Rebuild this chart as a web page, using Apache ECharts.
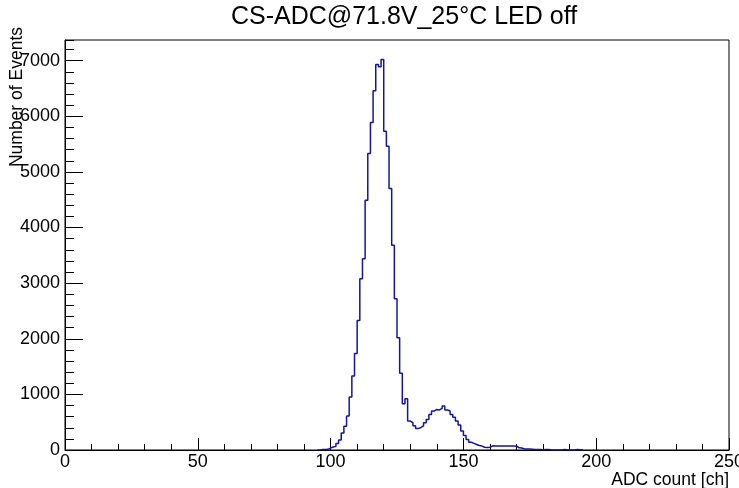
<!DOCTYPE html>
<html>
<head>
<meta charset="utf-8">
<script src="https://cdn.jsdelivr.net/npm/echarts@6/dist/echarts.min.js"></script>
<style>
html,body{margin:0;padding:0;background:#fff;}
#chart{width:739px;height:488px;}
</style>
</head>
<body>
<div id="chart"></div>
<script>
// Histogram: 1 ADC-count-wide bins, first bin starts at binStart
const titleText = "CS-ADC@71.8V_25\u00b0C LED off";
const xAxisTitle = "ADC count [ch]";
const yAxisTitle = "Number of Events";
const binStart = 95;
const counts = [
  0, 8, 10, 12, 35, 55, 65, 115, 180, 305,            // 95-104
  425, 610, 955, 1330, 1735, 2330, 3080, 3440, 4490, 5330, // 105-114
  5890, 6460, 6930, 6890, 7020, 5730, 5460, 4700, 3680, 2720, // 115-124
  2020, 1380, 830, 920, 520, 490, 435, 385, 405, 435,  // 125-134
  490, 550, 640, 700, 730, 720, 750, 790, 720, 700,    // 135-144
  640, 590, 520, 450, 340, 260, 190, 140, 120, 100,    // 145-154
  80, 70, 50, 45, 50, 75, 72, 70, 70, 72,              // 155-164
  70, 70, 72, 70, 68, 40, 35, 20, 20, 18,              // 165-174
  15, 8, 8, 8, 6, 8, 8, 4, 2, 0,                       // 175-184
  2, 2, 8, 6, 0, 2, 0, 8, 6, 0                         // 185-194
];
const xTicks = [0, 50, 100, 150, 200, 250];
const yTicks = [0, 1000, 2000, 3000, 4000, 5000, 6000, 7000];
const yMax = 7371;

const data = counts.map((v, i) => [binStart + i, v]);
data.push([binStart + counts.length, 0]);

const chart = echarts.init(document.getElementById('chart'), null, {renderer: 'canvas'});
const font = "'Liberation Sans', Arial, Helvetica, sans-serif";
const plain = v => String(v);
chart.setOption({
  animation: false,
  backgroundColor: '#fff',
  title: {
    text: titleText,
    left: 399,
    textAlign: 'center',
    top: 0,
    padding: [5, 5],
    textStyle: {fontFamily: font, fontSize: 25, fontWeight: 'normal', color: '#000'}
  },
  grid: {
    left: 65, right: 10, top: 40, bottom: 38,
    containLabel: false,
    outerBoundsMode: 'none',
    show: true, borderColor: '#000', borderWidth: 1, backgroundColor: 'transparent'
  },
  xAxis: {
    type: 'value',
    min: xTicks[0], max: xTicks[xTicks.length - 1], interval: xTicks[1] - xTicks[0],
    name: xAxisTitle,
    nameLocation: 'end',
    nameGap: 0,
    nameTextStyle: {fontFamily: font, fontSize: 17.5, color: '#000', align: 'right', verticalAlign: 'top', padding: [21, 0, 0, 0]},
    axisLine: {show: true, lineStyle: {color: '#000', width: 1}},
    axisTick: {show: true, inside: true, length: 12, lineStyle: {color: '#000'}},
    minorTick: {show: true, splitNumber: 5, length: 6, lineStyle: {color: '#000'}},
    axisLabel: {fontFamily: font, fontSize: 18, color: '#000', margin: 3, formatter: plain},
    splitLine: {show: false}
  },
  yAxis: [{
    type: 'value',
    min: 0, max: yMax, interval: yTicks[1] - yTicks[0],
    position: 'left',
    axisLine: {show: true, lineStyle: {color: '#000', width: 1}},
    axisTick: {show: true, inside: true, length: 18, lineStyle: {color: '#000'}},
    axisLabel: {fontFamily: font, fontSize: 18, color: '#000', margin: 5, showMaxLabel: false, formatter: plain},
    splitLine: {show: false}
  }, {
    type: 'value',
    min: 0, max: yMax, interval: (yTicks[1] - yTicks[0]) / 5,
    position: 'left',
    offset: 0,
    axisLine: {show: false},
    axisTick: {show: true, inside: true, length: 9, lineStyle: {color: '#000'}},
    axisLabel: {show: false},
    splitLine: {show: false}
  }],
  graphic: [{
    type: 'text',
    x: 26, y: 27,
    rotation: Math.PI / 2,
    style: {text: yAxisTitle, font: "17.5px 'Liberation Sans', Arial, sans-serif", fill: '#000', align: 'right', verticalAlign: 'bottom'}
  }],
  series: [{
    type: 'line',
    xAxisIndex: 0,
    yAxisIndex: 0,
    step: 'end',
    showSymbol: false,
    symbol: 'none',
    data: data,
    lineStyle: {color: '#1414a0', width: 1.5},
    z: 3
  }]
});
</script>
</body>
</html>
